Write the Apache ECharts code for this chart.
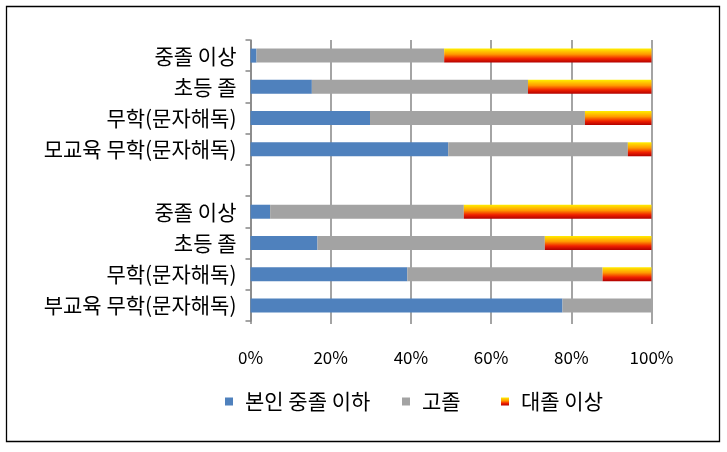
<!DOCTYPE html>
<html><head><meta charset="utf-8">
<script src="https://cdn.jsdelivr.net/npm/echarts@6/dist/echarts.min.js"></script>
<style>html,body{margin:0;padding:0;background:#fff}#c{width:727px;height:452px}</style>
</head><body><div id="c"></div>
<script>
// categories listed bottom-to-top (category axis order)
var categories = ['부교육 무학(문자해독)', '무학(문자해독)', '초등 졸', '중졸 이상', '', '모교육 무학(문자해독)', '무학(문자해독)', '초등 졸', '중졸 이상'];
var seriesNames = ['본인 중졸 이하', '고졸', '대졸 이상'];
var belowMiddle = [77.8, 39.1, 16.7, 4.9, null, 49.3, 29.8, 15.3, 1.5];
var highSchool = [22.2, 48.7, 56.7, 48.3, null, 44.8, 53.6, 53.9, 46.8];
var college = [0, 12.2, 26.6, 46.8, null, 5.9, 16.6, 30.8, 51.7];
var xTicks = [0, 20, 40, 60, 80, 100];

var FONT = '"Noto Sans CJK KR", "Noto Sans", sans-serif';
var orangeGrad = new echarts.graphic.LinearGradient(0, 0, 0, 1, [
  {offset: 0, color: '#ffee00'},
  {offset: 0.4, color: '#ff9a00'},
  {offset: 0.72, color: '#f02000'},
  {offset: 1, color: '#b00000'}
]);
var colors = ['#4f81bd', '#a3a3a3', orangeGrad];
var datas = [belowMiddle, highSchool, college];

var chart = echarts.init(document.getElementById('c'), null, {renderer: 'canvas'});
var legendLefts = [225, 402, 501];
var legends = seriesNames.map(function (n, i) {
  return {
    data: [n], left: legendLefts[i], top: 391,
    itemWidth: 8, itemHeight: 8, itemGap: 10, icon: 'rect',
    textStyle: {fontFamily: FONT, fontSize: 21, color: '#000', padding: [0, 0, 0, 7]},
    padding: 0
  };
});
chart.setOption({
  animation: false,
  backgroundColor: '#fff',
  graphic: [{type: 'rect', shape: {x: 6.5, y: 6.5, width: 713, height: 435}, style: {fill: 'none', stroke: '#000', lineWidth: 1.3}, z: 100}],
  legend: legends,
  grid: {left: 250.5, right: 75.5, top: 40, bottom: 131, containLabel: false},
  xAxis: {
    type: 'value', min: xTicks[0], max: xTicks[xTicks.length - 1], interval: 20,
    axisLine: {show: false},
    axisTick: {show: true, length: 3, lineStyle: {color: '#868686', width: 1.5}},
    splitLine: {show: true, lineStyle: {color: '#868686', width: 1.5}},
    axisLabel: {formatter: '{value}%', fontFamily: FONT, fontSize: 17, color: '#000', margin: 28}
  },
  yAxis: {
    type: 'category', data: categories,
    axisLine: {show: true, lineStyle: {color: '#868686', width: 1.5}},
    axisTick: {show: true, length: 5, lineStyle: {color: '#868686', width: 1.5}},
    axisLabel: {fontFamily: FONT, fontSize: 21, color: '#000', margin: 14}
  },
  series: datas.map(function (d, i) {
    return {
      name: seriesNames[i], type: 'bar', stack: 'total', data: d,
      barWidth: 14, itemStyle: {color: colors[i]}
    };
  })
});
</script></body></html>
